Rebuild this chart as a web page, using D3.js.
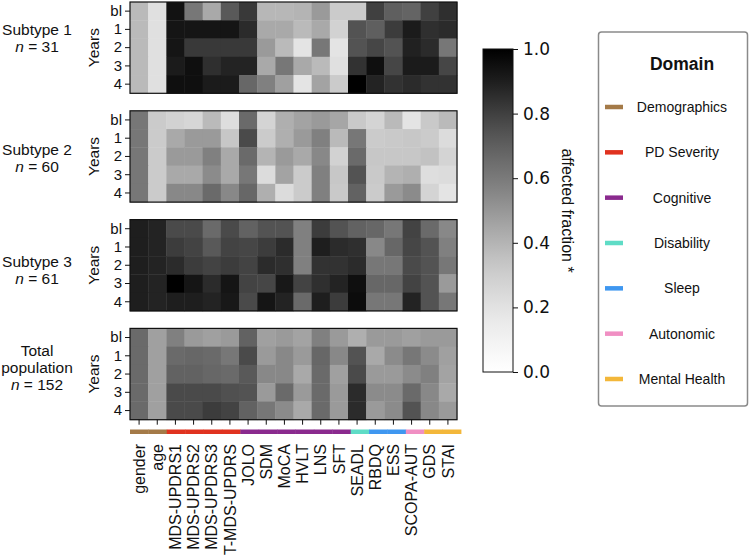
<!DOCTYPE html>
<html><head><meta charset="utf-8">
<script src="https://cdn.jsdelivr.net/npm/d3@7"></script>
<style>
body{margin:0;background:#fff}
text{font-family:"Liberation Sans",Arial,sans-serif;fill:#111}
</style>
</head><body>
<svg id="chart" width="750" height="558"></svg>
<script>
// ---------------- data ----------------
const variables = ["gender","age","MDS-UPDRS1","MDS-UPDRS2","MDS-UPDRS3","T-MDS-UPDRS","JOLO","SDM","MoCA","HVLT","LNS","SFT","SEADL","RBDQ","ESS","SCOPA-AUT","GDS","STAI"];
const variableDomain = ["Demographics","Demographics","PD Severity","PD Severity","PD Severity","PD Severity","Cognitive","Cognitive","Cognitive","Cognitive","Cognitive","Cognitive","Disability","Sleep","Sleep","Autonomic","Mental Health","Mental Health"];
const years = ["bl","1","2","3","4"];
const groupTitles = [["Subtype 1"],["Subtype 2"],["Subtype 3"],["Total","population"]];
const groupN = [31,60,61,152];
const domains = ["Demographics","PD Severity","Cognitive","Disability","Sleep","Autonomic","Mental Health"];
const domainColors = ["#a47a48","#e0321f","#8a2a8e","#5fdcc6","#3f97f0","#f08fc3","#f3b73a"];
const colorbarTicks = [0,0.2,0.4,0.6,0.8,1.0];

const subtype1 = [
 [0.38,0.21,0.94,0.61,0.44,0.72,0.82,0.39,0.39,0.40,0.49,0.31,0.31,0.80,0.70,0.68,0.80,0.85],
 [0.38,0.21,0.93,0.93,0.93,0.93,0.86,0.44,0.44,0.38,0.44,0.28,0.74,0.70,0.81,0.91,0.85,0.86],
 [0.38,0.21,0.93,0.82,0.82,0.82,0.82,0.49,0.38,0.19,0.61,0.19,0.74,0.78,0.74,0.89,0.86,0.61],
 [0.38,0.21,0.91,0.95,0.85,0.885,0.885,0.44,0.61,0.44,0.38,0.21,0.84,0.95,0.78,0.91,0.91,0.78],
 [0.38,0.21,0.95,0.95,0.91,0.91,0.67,0.58,0.47,0.19,0.46,0.31,1.00,0.885,0.84,0.86,0.84,0.84]
];
const subtype2 = [
 [0.61,0.31,0.28,0.26,0.38,0.22,0.66,0.27,0.42,0.46,0.49,0.45,0.32,0.27,0.38,0.19,0.32,0.38],
 [0.61,0.31,0.44,0.49,0.49,0.33,0.77,0.31,0.42,0.49,0.58,0.38,0.61,0.31,0.32,0.33,0.31,0.23],
 [0.61,0.31,0.49,0.49,0.58,0.44,0.66,0.40,0.49,0.44,0.55,0.28,0.66,0.33,0.33,0.33,0.35,0.27],
 [0.61,0.31,0.44,0.44,0.54,0.44,0.61,0.23,0.46,0.31,0.58,0.33,0.74,0.32,0.40,0.42,0.22,0.23],
 [0.61,0.31,0.55,0.55,0.66,0.55,0.67,0.42,0.23,0.31,0.58,0.32,0.69,0.31,0.49,0.54,0.27,0.19]
];
const subtype3 = [
 [0.90,0.885,0.77,0.77,0.66,0.77,0.69,0.74,0.74,0.58,0.81,0.74,0.69,0.67,0.61,0.79,0.66,0.55],
 [0.90,0.885,0.81,0.79,0.72,0.79,0.78,0.81,0.86,0.58,0.90,0.86,0.85,0.55,0.67,0.78,0.74,0.58],
 [0.90,0.885,0.86,0.81,0.79,0.81,0.79,0.86,0.85,0.58,0.84,0.84,0.86,0.61,0.61,0.77,0.74,0.61],
 [0.90,0.885,1.00,0.93,0.86,0.93,0.79,0.78,0.92,0.79,0.85,0.885,0.95,0.67,0.67,0.79,0.74,0.49],
 [0.90,0.885,0.90,0.90,0.885,0.92,0.77,0.93,0.885,0.66,0.90,0.81,0.96,0.61,0.61,0.885,0.74,0.61]
];
const totalPopulation = [
 [0.66,0.47,0.58,0.49,0.47,0.49,0.69,0.47,0.49,0.46,0.58,0.49,0.42,0.49,0.49,0.47,0.49,0.49],
 [0.66,0.47,0.66,0.67,0.66,0.61,0.77,0.49,0.55,0.49,0.67,0.55,0.74,0.44,0.54,0.61,0.54,0.47],
 [0.66,0.47,0.69,0.69,0.67,0.66,0.72,0.55,0.55,0.44,0.66,0.47,0.77,0.49,0.49,0.54,0.58,0.46],
 [0.66,0.47,0.77,0.77,0.77,0.75,0.74,0.49,0.66,0.49,0.66,0.49,0.86,0.54,0.54,0.66,0.55,0.44],
 [0.66,0.47,0.77,0.77,0.81,0.79,0.69,0.61,0.54,0.44,0.66,0.49,0.86,0.49,0.54,0.74,0.55,0.49]
];
const groups = [subtype1, subtype2, subtype3, totalPopulation];

// ---------------- layout ----------------
const svg = d3.select("#chart");
const hmLeft = 130, hmRight = 457;
const panelTop0 = 2, panelStep = 108.8, panelH = 91.3;
const labelOffsets = [-10, 1.5, 5, -6];

const x = d3.scaleBand().domain(variables).range([hmLeft, hmRight]);
const color = d3.scaleSequential(d3.interpolateGreys).domain([0, 1]);

groups.forEach((mat, gi) => {
  const top = panelTop0 + gi * panelStep;
  const y = d3.scaleBand().domain(years).range([top, top + panelH]);
  const g = svg.append("g");
  const cells = [];
  mat.forEach((row, ri) => row.forEach((v, ci) => cells.push({yr: years[ri], vr: variables[ci], v})));
  g.selectAll("rect.cell").data(cells).join("rect")
    .attr("class", "cell")
    .attr("x", d => x(d.vr)).attr("y", d => y(d.yr))
    .attr("width", x.bandwidth() + 0.4).attr("height", y.bandwidth() + 0.4)
    .attr("fill", d => color(d.v));
  g.append("rect").attr("x", hmLeft).attr("y", top).attr("width", hmRight - hmLeft).attr("height", panelH)
    .attr("fill", "none").attr("stroke", "#111").attr("stroke-width", 1.2);

  const ax = g.append("g").attr("transform", `translate(${hmLeft},0)`)
    .call(d3.axisLeft(y).tickSize(5).tickPadding(3));
  ax.select(".domain").remove();
  ax.selectAll("line").attr("stroke", "#111");
  ax.selectAll("text").style("font-size", "15px").style("font-family", '"Liberation Sans",Arial,sans-serif').attr("fill", "#111");

  const cy = top + panelH / 2;
  svg.append("text").attr("transform", `translate(94,${cy}) rotate(-90)`)
    .attr("text-anchor", "middle").attr("dy", "0.35em").style("font-size", "15.5px").text("Years");

  const lines = groupTitles[gi].map(t => ({t, n: false})).concat([{t: groupN[gi], n: true}]);
  const bc = cy + labelOffsets[gi];
  const lh = 17;
  lines.forEach((ln, li) => {
    const ty = bc + (li - (lines.length - 1) / 2) * lh;
    const t = svg.append("text").attr("x", 37).attr("y", ty).attr("dy", "0.35em")
      .attr("text-anchor", "middle").style("font-size", "15.5px");
    if (ln.n) {
      t.append("tspan").style("font-style", "italic").text("n");
      t.append("tspan").text(" = " + ln.t);
    } else t.text(ln.t);
  });

  if (gi === groups.length - 1) {
    const bx = svg.append("g").attr("transform", `translate(0,${top + panelH})`)
      .call(d3.axisBottom(x).tickSize(5).tickFormat(""));
    bx.select(".domain").remove();
    bx.selectAll("line").attr("stroke", "#111");
  }
});

// domain strip
const xs = d3.scaleBand().domain(variables).range([hmLeft, 461]);
svg.append("g").selectAll("rect").data(variables).join("rect")
  .attr("x", d => xs(d)).attr("y", 429.5).attr("width", xs.bandwidth() + 0.4).attr("height", 4.5)
  .attr("fill", (d, i) => domainColors[domains.indexOf(variableDomain[i])]);

// x labels
svg.append("g").selectAll("text").data(variables).join("text")
  .attr("transform", d => `translate(${x(d) + x.bandwidth() / 2},444) rotate(-90)`)
  .attr("text-anchor", "end").attr("dy", "0.35em").style("font-size", "16px")
  .text(d => d);

// colorbar
const cbX = 483, cbW = 30, cbTop = 49, cbBot = 372;
const grad = svg.append("defs").append("linearGradient").attr("id", "cbgrad")
  .attr("x1", 0).attr("y1", 1).attr("x2", 0).attr("y2", 0);
d3.range(0, 1.0001, 0.05).forEach(t => grad.append("stop").attr("offset", t).attr("stop-color", color(t)));
svg.append("rect").attr("x", cbX).attr("y", cbTop).attr("width", cbW).attr("height", cbBot - cbTop)
  .attr("fill", "url(#cbgrad)").attr("stroke", "#111").attr("stroke-width", 1);
const cby = d3.scaleLinear().domain([0, 1]).range([cbBot, cbTop]);
const cax = svg.append("g").attr("transform", `translate(${cbX + cbW},0)`)
  .call(d3.axisRight(cby).tickValues(colorbarTicks).tickFormat(d3.format(".1f")).tickSize(5).tickPadding(5));
cax.select(".domain").remove();
cax.selectAll("line").attr("stroke", "#111");
cax.selectAll("text").style("font-size", "17px").style("font-family", '"DejaVu Sans",sans-serif').attr("fill", "#111");
svg.append("text").attr("transform", `translate(567.5,${(cbTop + cbBot) / 2}) rotate(90)`)
  .attr("text-anchor", "middle").attr("dy", "0.35em").style("font-size", "16px")
  .text("affected fraction *");

// legend
svg.append("rect").attr("x", 598.5).attr("y", 32).attr("width", 149).attr("height", 374)
  .attr("rx", 3).attr("fill", "#fff").attr("stroke", "#8a8a8a").attr("stroke-width", 1.5);
svg.append("text").attr("x", 682).attr("y", 70).attr("text-anchor", "middle")
  .style("font-size", "17.5px").style("font-weight", "bold").text("Domain");
const ly = d3.scalePoint().domain(domains).range([107, 379]);
const lg = svg.append("g").selectAll("g").data(domains).join("g")
  .attr("transform", d => `translate(0,${ly(d)})`);
lg.append("rect").attr("x", 605).attr("y", -2.25).attr("width", 18).attr("height", 4.5)
  .attr("fill", (d, i) => domainColors[i]);
lg.append("text").attr("x", 682).attr("dy", "0.35em").attr("text-anchor", "middle")
  .style("font-size", "14px").text(d => d);
</script>
</body></html>
